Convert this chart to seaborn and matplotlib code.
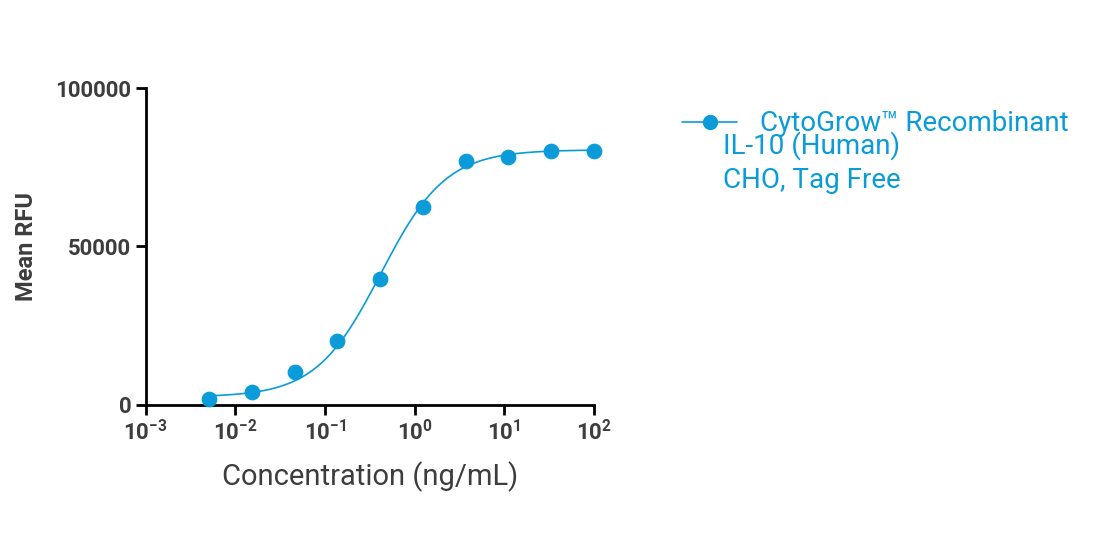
import numpy as np
import pandas as pd
import matplotlib
matplotlib.use("Agg")
import matplotlib.pyplot as plt
import seaborn as sns
from matplotlib.lines import Line2D

conc = [0.00508, 0.0152, 0.0457, 0.137, 0.412, 1.23, 3.70, 11.1, 33.3, 100.0]
rfu = [1900, 4100, 10400, 20200, 39700, 62500, 77000, 78200, 80100, 80100]
# 4PL fit parameters (estimated)
fit_bottom, fit_top, fit_ec50, fit_hill = 2500, 80500, 0.42, 1.2
series_lines = ["CytoGrow\u2122 Recombinant", "IL-10 (Human)", "CHO, Tag Free"]

color = "#0a9bd8"
sns.set_theme(style="white")
plt.rcParams['font.family'] = ['Roboto', 'DejaVu Sans']
plt.rcParams['mathtext.fontset'] = 'custom'
plt.rcParams['mathtext.rm'] = 'Roboto'
plt.rcParams['mathtext.bf'] = 'Roboto:bold'

fig = plt.figure(figsize=(11.04, 5.34), dpi=100)
ax = fig.add_axes([0.132, 0.2416, 0.406, 0.5936])

xs = np.logspace(np.log10(conc[0]), np.log10(conc[-1]), 300)
ys = fit_bottom + (fit_top - fit_bottom) / (1 + (fit_ec50 / xs) ** fit_hill)
sns.lineplot(x=xs, y=ys, ax=ax, color=color, lw=1.2)
df = pd.DataFrame({"c": conc, "r": rfu})
sns.scatterplot(data=df, x="c", y="r", ax=ax, color=color, s=110, edgecolor=color, zorder=3, clip_on=False)

ax.set_xscale("log")
ax.set_xlim(1e-3, 1e2)
ax.set_ylim(0, 100000)
ax.set_yticks([0, 50000, 100000])
ax.set_yticklabels(["0", "50000", "100000"])
ax.set_xticks([1e-3, 1e-2, 1e-1, 1e0, 1e1, 1e2])
ax.set_xticklabels([r"$\mathbf{10^{-3}}$", r"$\mathbf{10^{-2}}$", r"$\mathbf{10^{-1}}$",
                    r"$\mathbf{10^{0}}$", r"$\mathbf{10^{1}}$", r"$\mathbf{10^{2}}$"])
ax.minorticks_off()
for s in ["top", "right"]:
    ax.spines[s].set_visible(False)
for s in ["left", "bottom"]:
    ax.spines[s].set_color("black")
    ax.spines[s].set_linewidth(2)
ax.tick_params(axis="both", which="major", direction="out", length=7, width=2,
               color="black", labelsize=16, labelcolor="#3d3d3d", bottom=True, left=True)
for t in ax.get_yticklabels():
    t.set_fontweight("bold")
ax.set_xlabel("Concentration (ng/mL)", fontsize=21, color="#3d3d3d", labelpad=12)
ax.set_ylabel("Mean RFU", fontsize=17, fontweight="bold", color="#3d3d3d", labelpad=12)

h = Line2D([], [], color=color, lw=1.2, marker="o", markersize=10)
fig.legend([h], [series_lines[0]], loc="upper left", bbox_to_anchor=(0.595, 0.84),
           frameon=False, fontsize=20, handlelength=2.0, handletextpad=0.8, labelcolor=color)
fig.canvas.draw()
fig.text(0.655, 0.728, series_lines[1], fontsize=20, color=color, va="center")
fig.text(0.655, 0.662, series_lines[2], fontsize=20, color=color, va="center")
fig.savefig("out.png", dpi=100)
